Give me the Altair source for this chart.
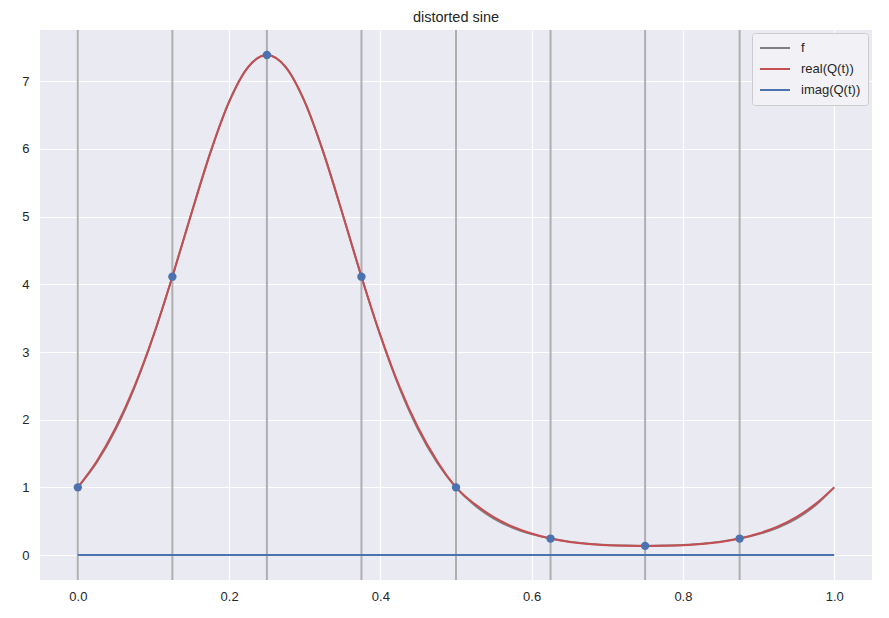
import altair as alt
import pandas as pd

# sample positions along t
t_vals = [0.0, 0.025, 0.05, 0.075, 0.1, 0.125, 0.15, 0.175, 0.2, 0.225,
          0.25, 0.275, 0.3, 0.325, 0.35, 0.375, 0.4, 0.425, 0.45, 0.475,
          0.5, 0.525, 0.55, 0.575, 0.6, 0.625, 0.65, 0.675, 0.7, 0.725,
          0.75, 0.775, 0.8, 0.825, 0.85, 0.875, 0.9, 0.925, 0.95, 0.975, 1.0]

# f (grey curve)
f_vals = [1.0, 1.367, 1.855, 2.479, 3.240, 4.113, 5.043, 5.942, 6.700, 7.210,
          7.389, 7.210, 6.700, 5.942, 5.043, 4.113, 3.240, 2.479, 1.855, 1.367,
          1.0, 0.731, 0.539, 0.403, 0.309, 0.243, 0.198, 0.168, 0.149, 0.139,
          0.135, 0.139, 0.149, 0.168, 0.198, 0.243, 0.309, 0.403, 0.539, 0.731, 1.0]

# real(Q(t)) (red curve)
qr_vals = [1.0, 1.385, 1.880, 2.495, 3.245, 4.113, 5.040, 5.935, 6.695, 7.207,
           7.389, 7.207, 6.695, 5.935, 5.040, 4.113, 3.250, 2.495, 1.880, 1.390,
           1.0, 0.752, 0.560, 0.418, 0.318, 0.243, 0.193, 0.162, 0.145, 0.137,
           0.135, 0.137, 0.145, 0.162, 0.193, 0.243, 0.318, 0.418, 0.560, 0.752, 1.0]

# imag(Q(t)) (blue curve)
qi_vals = [0.0] * len(t_vals)

# sample nodes
node_t = [0.0, 0.125, 0.25, 0.375, 0.5, 0.625, 0.75, 0.875]
node_v = [1.0, 4.113, 7.389, 4.113, 1.0, 0.243, 0.135, 0.243]

series_names = ["f", "real(Q(t))", "imag(Q(t))"]
series_colors = ["#7f7f7f", "#C44E52", "#4C72B0"]

rows = []
for name, vals in zip(series_names, [f_vals, qr_vals, qi_vals]):
    for i, (t, v) in enumerate(zip(t_vals, vals)):
        rows.append({"t": t, "v": v, "series": name, "order": i})
lines_df = pd.DataFrame(rows)
nodes_df = pd.DataFrame({"t": node_t, "v": node_v})

FONT = "Liberation Sans"

xscale = alt.Scale(domain=[-0.05, 1.05], nice=False, zero=False)
yscale = alt.Scale(domain=[-0.369, 7.758], nice=False, zero=False)

xaxis = alt.Axis(values=[0.0, 0.2, 0.4, 0.6, 0.8, 1.0], format=".1f", title=None,
                 grid=True, gridColor="white", gridWidth=1.2, domain=False, ticks=False,
                 labelPadding=10, labelFontSize=13, labelColor="#262626", labelFont=FONT)
yaxis = alt.Axis(values=[0, 1, 2, 3, 4, 5, 6, 7], format="d", title=None,
                 grid=True, gridColor="white", gridWidth=1.2, domain=False, ticks=False,
                 labelPadding=11, labelFontSize=13, labelColor="#262626", labelFont=FONT,
                 minExtent=27, maxExtent=27)

vlines = alt.Chart(nodes_df).mark_rule(color="#a9a9a9", strokeWidth=2, opacity=0.9).encode(
    x=alt.X("t:Q", scale=xscale, axis=xaxis)
)

lines = alt.Chart(lines_df).mark_line(strokeWidth=2, clip=True, interpolate="monotone").encode(
    x=alt.X("t:Q", scale=xscale, axis=xaxis),
    y=alt.Y("v:Q", scale=yscale, axis=yaxis),
    color=alt.Color("series:N",
                    scale=alt.Scale(domain=series_names, range=series_colors),
                    sort=series_names,
                    legend=alt.Legend(title=None, orient="none", legendX=712, legendY=3,
                                      symbolType="stroke", symbolSize=900, symbolStrokeWidth=2,
                                      clipHeight=16,
                                      labelFontSize=13, labelFont=FONT, labelColor="#262626",
                                      fillColor="#f2f2f6", strokeColor="#cccccc",
                                      cornerRadius=3, padding=7, rowPadding=5,
                                      labelOffset=10)),
    order="order:Q",
    detail="series:N",
)

dots = alt.Chart(nodes_df).mark_circle(size=70, color="#4C72B0", opacity=1).encode(
    x=alt.X("t:Q", scale=xscale, axis=xaxis),
    y=alt.Y("v:Q", scale=yscale, axis=yaxis),
)

chart = alt.layer(vlines, lines, dots).properties(
    width=832, height=550,
    title=alt.TitleParams("distorted sine", fontSize=14.5, font=FONT, fontWeight="normal",
                          color="#262626", offset=4),
    padding={"left": 5, "top": 1, "right": 5, "bottom": 5},
).configure_view(fill="#EAEAF2", stroke=None)

chart.save("out.html", embed_options={"renderer": "svg", "actions": False})
